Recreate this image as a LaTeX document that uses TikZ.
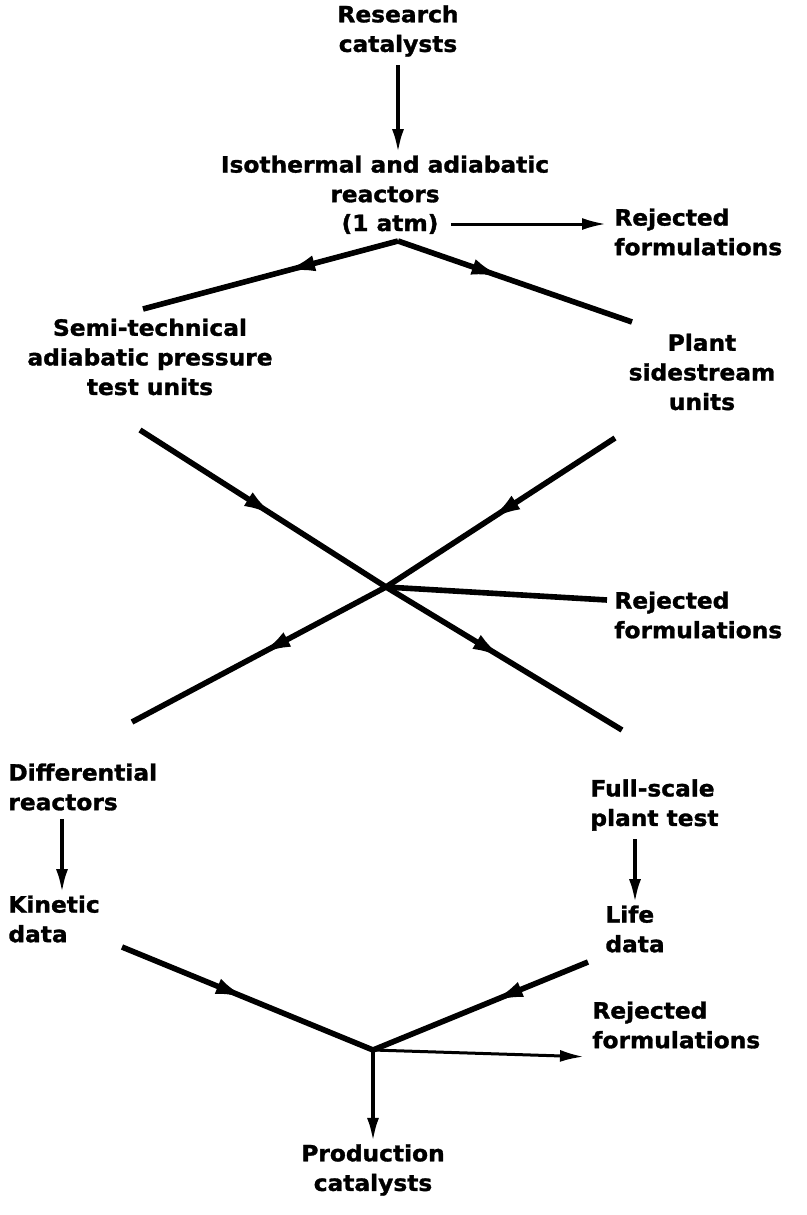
\documentclass[tikz,border=0pt]{standalone}
\usepackage{fontspec}
\newfontfamily\labelfont[FakeStretch=1.04,FakeBold=1.4]{DejaVu Sans Bold}
\usetikzlibrary{arrows.meta,decorations.markings}

\tikzset{
  lbl/.style={font=\labelfont\fontsize{11.2}{14.8}\selectfont, align=center, inner sep=1pt},
  lbll/.style={lbl, align=left, anchor=west},
  flow/.style={line width=2.8pt, postaction={decorate},
    decoration={markings, mark=at position #1 with {\arrow{Latex[length=16pt,width=8pt]}}}},
  flow/.default=0.5,
  arr/.style={line width=1.9pt, -{Latex[length=12pt,width=6pt]}},
}

\begin{document}
\begin{tikzpicture}[x=0.5pt,y=-0.5pt]
  \path[fill=white,use as bounding box] (0,0) rectangle (807,1215);

  % catalyst labels
  \node[lbl] (research) at (398,31) {Research\\catalysts};
  \node[lbl] (iso) at (385,179) {Isothermal and adiabatic\\reactors};
  \node[lbl] (atm) at (390,224) {(1 atm)};
  \node[lbl] (semi) at (150,357) {Semi-technical\\adiabatic pressure\\test units};
  \node[lbl] (plant) at (702,372) {Plant\\sidestream\\units};
  \node[lbll] (diff) at (6,787) {Differential\\reactors};
  \node[lbll] (full) at (588,805) {Full-scale\\plant test};
  \node[lbll] (kin) at (6,919) {Kinetic\\data};
  \node[lbll] (life) at (603,929) {Life\\data};
  \node[lbl] (prod) at (373,1170) {Production\\catalysts};

  % rejected formulations
  \node[lbll] (rejA) at (612,232) {Rejected\\formulations};
  \node[lbll] (rejB) at (612,615) {Rejected\\formulations};
  \node[lbll] (rejC) at (590,1025) {Rejected\\formulations};

  \coordinate (apex) at (398,241);
  \coordinate (semiin) at (143,309);
  \coordinate (plantin) at (632,322);
  \coordinate (semiout) at (140,430);
  \coordinate (plantout) at (615,438);
  \coordinate (cross) at (386,587);
  \coordinate (diffin) at (132,722);
  \coordinate (fullin) at (622,730);
  \coordinate (rejBin) at (607,600);
  \coordinate (kinout) at (122,947);
  \coordinate (lifeout) at (588,962);
  \coordinate (join) at (373,1050);

  \draw[arr,shorten <=3pt] (research) -- (research |- iso.north);
  \draw[arr,line width=1.5pt,shorten <=5pt,shorten >=3pt] (atm) -- (rejA.west |- atm);

  \draw[flow=0.45] (apex) -- (semiin);
  \draw[flow=0.45] (apex) -- (plantin);

  % the cross
  \draw[flow=0.55] (semiout) -- (cross);
  \draw[flow=0.5] (cross) -- (fullin);
  \draw[flow=0.55] (plantout) -- (cross);
  \draw[flow=0.5] (cross) -- (diffin);
  \draw[line width=2.8pt] (cross) -- (rejBin);

  \draw[arr,shorten <=3pt] ([xshift=28pt]diff.south west) -- ([xshift=28pt]kin.north west);
  \draw[arr,shorten <=3pt] ([xshift=23.5pt]full.south west) -- ([xshift=16pt]life.north west);

  \draw[flow=0.5] (kinout) -- (join);
  \draw[flow=0.45] (lifeout) -- (join);
  \draw[arr] (join) -- (prod);
  \draw[arr,line width=1.5pt,shorten >=3pt] (join) -- ([yshift=-3pt]rejC.south west);
\end{tikzpicture}
\end{document}
